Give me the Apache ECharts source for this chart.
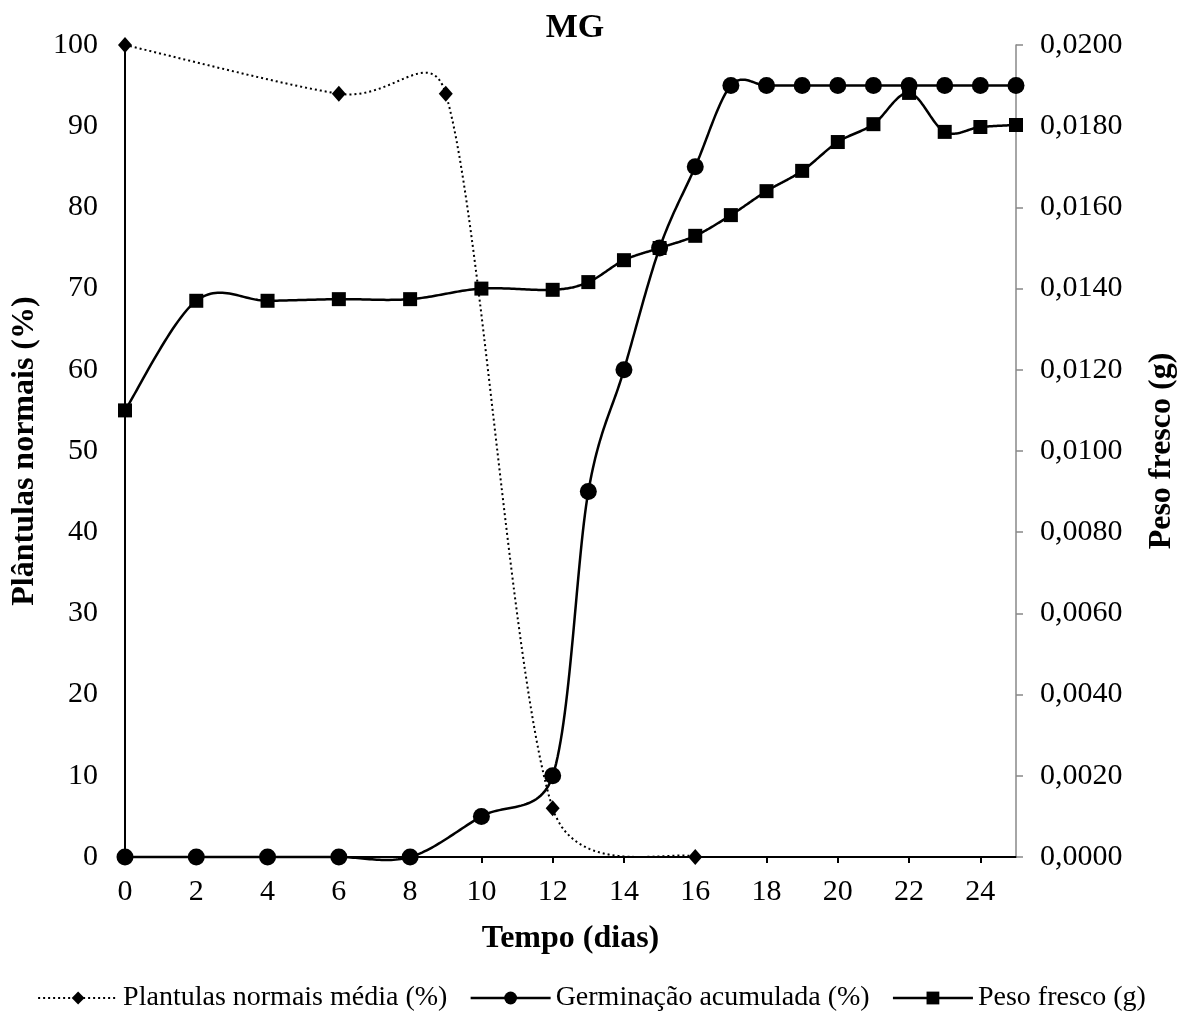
<!DOCTYPE html>
<html><head><meta charset="utf-8">
<script src="https://cdn.jsdelivr.net/npm/echarts@6/dist/echarts.min.js"></script>
<style>html,body{margin:0;padding:0;background:#fff}#c{width:1183px;height:1019px}</style>
</head><body><div id="c"></div>
<script>
const plantulasX = [0, 6, 9, 12, 16];
const plantulasY = [100, 94, 94, 6, 0];
const dias = [0, 2, 4, 6, 8, 10, 12, 13, 14, 15, 16, 17, 18, 19, 20, 21, 22, 23, 24, 25];
const germinacao = [0, 0, 0, 0, 0, 5, 10, 45, 60, 75, 85, 95, 95, 95, 95, 95, 95, 95, 95, 95];
const peso = [0.0110, 0.0137, 0.0137, 0.01374, 0.01374, 0.0140, 0.01397, 0.01416, 0.0147, 0.0150, 0.0153, 0.01581, 0.0164, 0.0169, 0.01761, 0.01805, 0.01882, 0.01786, 0.01798, 0.01803];
const titleText = 'MG';
const seriesNames = ['Plantulas normais média (%)', 'Germinação acumulada (%)', 'Peso fresco (g)'];

const F = '"Liberation Serif", "Times New Roman", serif';
const chart = echarts.init(document.getElementById('c'));
const zip = (xs, ys) => xs.map((x, i) => [x, ys[i]]);

// Excel-like smoothed curve: Catmull-Rom/Bezier with control offsets capped at half segment
function smoothCurve(xs, ys, axisIdx, lineWidth, dash, z) {
  return {
    type: 'custom', yAxisIndex: axisIdx, silent: true, z: z,
    data: [[xs[0], ys[0]]], encode: { x: 0, y: 1 },
    renderItem: function (params, api) {
      const P = xs.map((x, i) => api.coord([x, ys[i]]));
      const n = P.length;
      const dist = (a, b) => Math.hypot(b[0] - a[0], b[1] - a[1]);
      const pts = [P[0]];
      for (let i = 0; i < n - 1; i++) {
        const p0 = P[i > 0 ? i - 1 : i], p1 = P[i], p2 = P[i + 1], p3 = P[i + 2 < n ? i + 2 : i + 1];
        const d12 = dist(p1, p2);
        let t1 = [(p2[0] - p0[0]) / 6, (p2[1] - p0[1]) / 6];
        let t2 = [(p3[0] - p1[0]) / 6, (p3[1] - p1[1]) / 6];
        const l1 = Math.hypot(t1[0], t1[1]), l2 = Math.hypot(t2[0], t2[1]);
        if (l1 > d12 / 2) { t1 = [t1[0] * d12 / 2 / l1, t1[1] * d12 / 2 / l1]; }
        if (l2 > d12 / 2) { t2 = [t2[0] * d12 / 2 / l2, t2[1] * d12 / 2 / l2]; }
        const c1 = [p1[0] + t1[0], p1[1] + t1[1]];
        const c2 = [p2[0] - t2[0], p2[1] - t2[1]];
        const N = 30;
        for (let k = 1; k <= N; k++) {
          const t = k / N, u = 1 - t;
          pts.push([
            u * u * u * p1[0] + 3 * u * u * t * c1[0] + 3 * u * t * t * c2[0] + t * t * t * p2[0],
            u * u * u * p1[1] + 3 * u * u * t * c1[1] + 3 * u * t * t * c2[1] + t * t * t * p2[1]
          ]);
        }
      }
      return {
        type: 'polyline', shape: { points: pts },
        style: { stroke: '#000', fill: null, lineWidth: lineWidth, lineDash: dash || null }
      };
    }
  };
}

chart.setOption({
  animation: false,
  title: { text: titleText, left: 570, textAlign: 'center', top: 6, textStyle: { fontFamily: F, fontSize: 34, fontWeight: 'bold', color: '#000' } },
  grid: { left: 125, right: 167, top: 45, bottom: 162, outerBoundsMode: 'none', containLabel: false },
  legend: {
    bottom: 2, left: 'center', itemWidth: 80, itemHeight: 16, itemGap: 22,
    textStyle: { fontFamily: F, fontSize: 28, color: '#000' },
    data: [
      { name: seriesNames[0], lineStyle: { opacity: 1, color: '#000', width: 2, type: [2, 3] } },
      { name: seriesNames[1], lineStyle: { opacity: 1, color: '#000', width: 2.5, type: 'solid' } },
      { name: seriesNames[2], lineStyle: { opacity: 1, color: '#000', width: 2.5, type: 'solid' } }
    ]
  },
  xAxis: {
    type: 'value', min: 0, max: 25, interval: 2,
    name: 'Tempo (dias)', nameLocation: 'middle', nameGap: 66,
    nameTextStyle: { fontFamily: F, fontSize: 32, fontWeight: 'bold', color: '#000' },
    axisLine: { lineStyle: { color: '#000', width: 2 } },
    axisTick: { show: true, length: 6, lineStyle: { color: '#000', width: 2 } },
    axisLabel: { fontFamily: F, fontSize: 30, color: '#000', margin: 20, showMaxLabel: false },
    splitLine: { show: false }
  },
  yAxis: [{
    type: 'value', min: 0, max: 100, interval: 10,
    name: 'Plântulas normais (%)', nameLocation: 'middle', nameGap: 84,
    nameTextStyle: { fontFamily: F, fontSize: 32, fontWeight: 'bold', color: '#000' },
    axisLine: { show: true, lineStyle: { color: '#000', width: 2 } },
    axisTick: { show: false },
    axisLabel: { fontFamily: F, fontSize: 30, color: '#000', margin: 27 },
    splitLine: { show: false }
  }, {
    type: 'value', min: 0, max: 0.02, interval: 0.002, position: 'right',
    name: 'Peso fresco (g)', nameLocation: 'middle', nameGap: 130,
    nameTextStyle: { fontFamily: F, fontSize: 32, fontWeight: 'bold', color: '#000' },
    axisLine: { show: true, lineStyle: { color: '#888', width: 1.5 } },
    axisTick: { show: true, length: 7, lineStyle: { color: '#888', width: 1.5 } },
    axisLabel: { fontFamily: F, fontSize: 30, color: '#000', margin: 24,
      formatter: v => v.toFixed(4).replace('.', ',') },
    splitLine: { show: false }
  }],
  series: [
    smoothCurve(plantulasX, plantulasY, 0, 2, [2, 3], 2),
    smoothCurve(dias, germinacao, 0, 2.5, null, 2),
    smoothCurve(dias, peso, 1, 2.5, null, 2),
  {
    name: seriesNames[0], type: 'line', yAxisIndex: 0,
    data: zip(plantulasX, plantulasY),
    symbol: 'diamond', symbolSize: [14, 16],
    lineStyle: { color: '#000', width: 2, type: [2, 3], opacity: 0 },
    itemStyle: { color: '#000' }, z: 3
  }, {
    name: seriesNames[1], type: 'line', yAxisIndex: 0,
    data: zip(dias, germinacao),
    symbol: 'circle', symbolSize: 17,
    lineStyle: { color: '#000', width: 2.5, opacity: 0 },
    itemStyle: { color: '#000' }, z: 4
  }, {
    name: seriesNames[2], type: 'line', yAxisIndex: 1,
    data: zip(dias, peso),
    symbol: 'rect', symbolSize: 14,
    lineStyle: { color: '#000', width: 2.5, opacity: 0 },
    itemStyle: { color: '#000' }, z: 5
  }]
});
</script></body></html>
